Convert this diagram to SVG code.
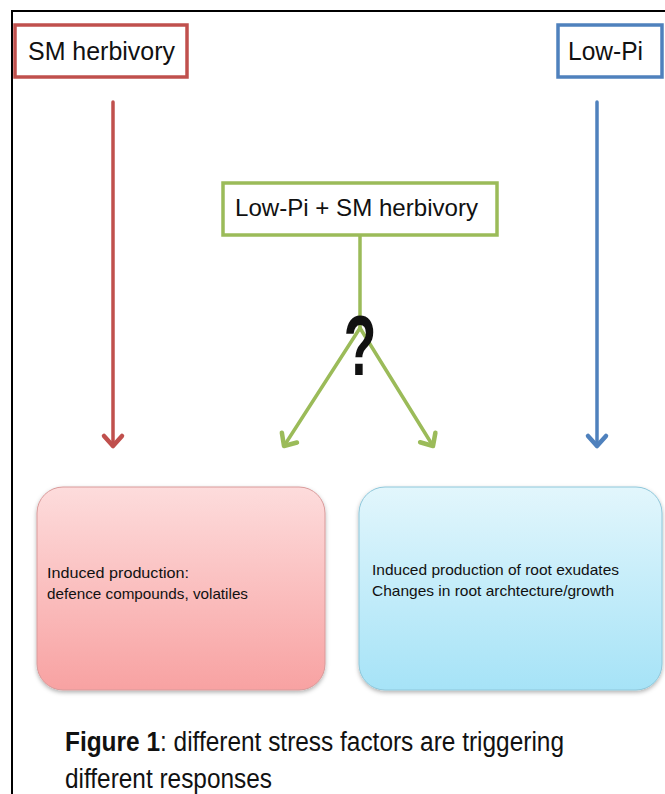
<svg xmlns="http://www.w3.org/2000/svg" width="665" height="794" viewBox="0 0 665 794">
<defs>
<style>
.t{font-family:"Liberation Sans",Arial,sans-serif;fill:#111}
.box{fill:#fff;stroke-width:3.5}
.conn{fill:none;stroke-width:3.5;stroke-linecap:round;stroke-linejoin:round}
</style>
<linearGradient id="gPink" x1="0" y1="0" x2="0" y2="1">
<stop offset="0" stop-color="#fddcdc"/>
<stop offset="1" stop-color="#f8a2a2"/>
</linearGradient>
<linearGradient id="gBlue" x1="0" y1="0" x2="0" y2="1">
<stop offset="0" stop-color="#e2f6fc"/>
<stop offset="1" stop-color="#a6e3f7"/>
</linearGradient>
<filter id="sh" x="-10%" y="-10%" width="120%" height="120%">
<feDropShadow dx="0" dy="2" stdDeviation="2" flood-color="#000" flood-opacity="0.3"/>
</filter>
<marker id="aR" markerUnits="userSpaceOnUse" markerWidth="30" markerHeight="30" refX="15" refY="15" orient="auto" viewBox="0 0 30 30">
<path d="M5 6 L15 15 L5 24" fill="none" stroke="#c0504d" stroke-width="4.5" stroke-linecap="round" stroke-linejoin="round"/>
</marker>
<marker id="aB" markerUnits="userSpaceOnUse" markerWidth="30" markerHeight="30" refX="15" refY="15" orient="auto" viewBox="0 0 30 30">
<path d="M5 6 L15 15 L5 24" fill="none" stroke="#4f81bd" stroke-width="4.5" stroke-linecap="round" stroke-linejoin="round"/>
</marker>
<marker id="aG" markerUnits="userSpaceOnUse" markerWidth="30" markerHeight="30" refX="15" refY="15" orient="auto" viewBox="0 0 30 30">
<path d="M5 6 L15 15 L5 24" fill="none" stroke="#9bbb59" stroke-width="4.5" stroke-linecap="round" stroke-linejoin="round"/>
</marker>
</defs>
<rect width="665" height="794" fill="#fff"/>
<rect x="12" y="11" width="680" height="800" fill="none" stroke="#000" stroke-width="2"/>

<g id="connectors">
<line class="conn" x1="113" y1="102" x2="113" y2="446" stroke="#c0504d" marker-end="url(#aR)"/>
<line class="conn" x1="597" y1="102" x2="597" y2="446" stroke="#4f81bd" marker-end="url(#aB)"/>
<line class="conn" x1="360" y1="236" x2="360" y2="328" stroke="#9bbb59"/>
<line class="conn" x1="360" y1="328" x2="284" y2="446" stroke="#9bbb59" marker-end="url(#aG)"/>
<line class="conn" x1="360" y1="328" x2="433" y2="446" stroke="#9bbb59" marker-end="url(#aG)"/>
<text class="t" transform="translate(360,375) scale(0.62,1)" font-size="86" font-weight="bold" text-anchor="middle" fill="#000">?</text>
</g>

<g id="node-sm">
<rect class="box" x="15" y="25" width="172" height="52" stroke="#c0504d"/>
<text class="t" x="28" y="60" font-size="25" textLength="147" lengthAdjust="spacingAndGlyphs">SM herbivory</text>
</g>

<g id="node-lowpi">
<rect class="box" x="558" y="25" width="104" height="52" stroke="#4f81bd"/>
<text class="t" x="568" y="60" font-size="25" textLength="75" lengthAdjust="spacingAndGlyphs">Low-Pi</text>
</g>

<g id="node-both">
<rect class="box" x="223" y="183" width="274" height="52" stroke="#9bbb59"/>
<text class="t" x="235" y="216" font-size="24" textLength="243" lengthAdjust="spacingAndGlyphs">Low-Pi + SM herbivory</text>
</g>

<g id="node-defence">
<rect x="37" y="487" width="288" height="203" rx="26" fill="url(#gPink)" stroke="#d99a9a" stroke-width="1" filter="url(#sh)"/>
<text class="t" x="47" y="578" font-size="15" textLength="142" lengthAdjust="spacingAndGlyphs">Induced production:</text>
<text class="t" x="47" y="599" font-size="15" textLength="201" lengthAdjust="spacingAndGlyphs">defence compounds, volatiles</text>
</g>

<g id="node-root">
<rect x="359" y="487" width="303" height="203" rx="26" fill="url(#gBlue)" stroke="#8ec7da" stroke-width="1" filter="url(#sh)"/>
<text class="t" x="372" y="575" font-size="15" textLength="247" lengthAdjust="spacingAndGlyphs">Induced production of root exudates</text>
<text class="t" x="372" y="596" font-size="15" textLength="242" lengthAdjust="spacingAndGlyphs">Changes in root archtecture/growth</text>
</g>

<g id="caption">
<text class="t" x="65" y="751" font-size="27" textLength="499" lengthAdjust="spacingAndGlyphs"><tspan font-weight="bold">Figure 1</tspan>: different stress factors are triggering</text>
<text class="t" x="65" y="788" font-size="27" textLength="207" lengthAdjust="spacingAndGlyphs">different responses</text>
</g>
</svg>
